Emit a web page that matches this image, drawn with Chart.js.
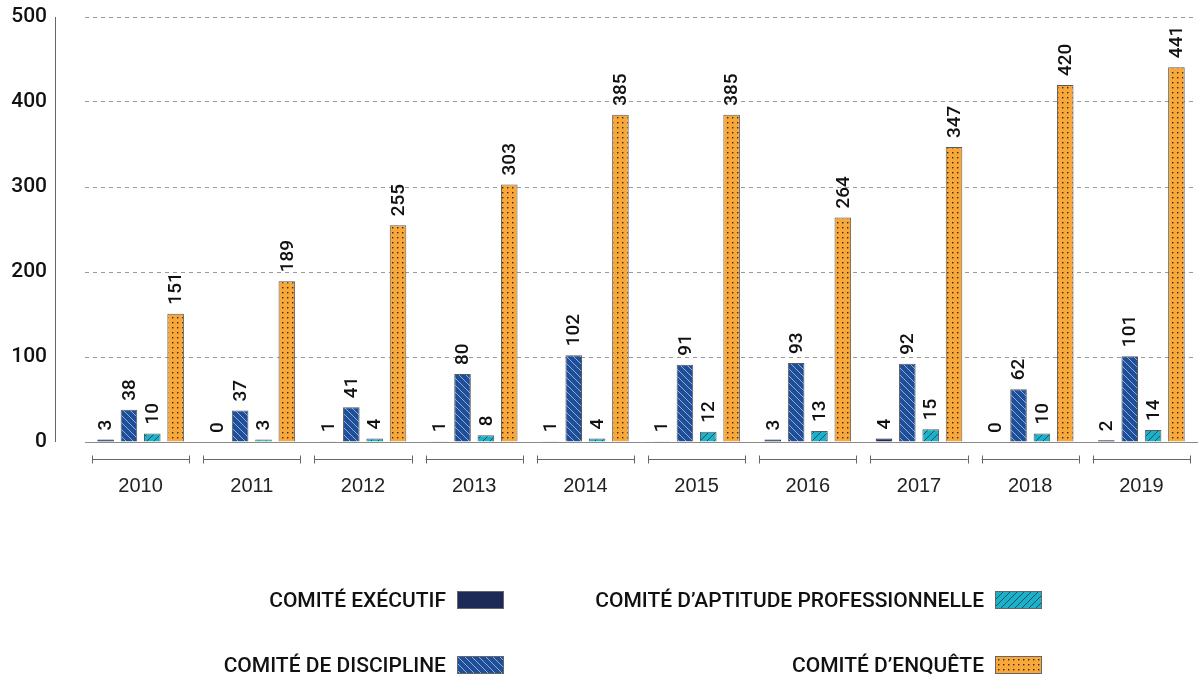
<!DOCTYPE html>
<html lang="fr">
<head>
<meta charset="utf-8">
<script src="https://cdn.jsdelivr.net/npm/chart.js@4"></script>
<style>
    body { margin: 0; background: #fff; }
    #wrap { position: relative; width: 1201px; height: 677px; }
    .legend-item {
        position: absolute;
        display: flex;
        align-items: center;
        font-family: "Roboto", "Liberation Sans", sans-serif;
        font-weight: 500;
        font-size: 21px;
        color: #111;
        white-space: nowrap;
    }
    .legend-item canvas { margin-left: 11px; border: 1px solid #666; }
</style>
</head>
<body>
<div id="wrap">
    <canvas id="committees" width="1201" height="677"></canvas>
    <div class="legend-item" id="leg-0" style="right:697px; top:588px;">COMITÉ EXÉCUTIF<canvas width="45" height="16"></canvas></div>
    <div class="legend-item" id="leg-2" style="right:159px; top:588px;">COMITÉ D’APTITUDE PROFESSIONNELLE<canvas width="45" height="16"></canvas></div>
    <div class="legend-item" id="leg-1" style="right:697px; top:653px;">COMITÉ DE DISCIPLINE<canvas width="45" height="16"></canvas></div>
    <div class="legend-item" id="leg-3" style="right:159px; top:653px;">COMITÉ D’ENQUÊTE<canvas width="45" height="16"></canvas></div>
</div>
<script>
// Data
const years = ['2010', '2011', '2012', '2013', '2014', '2015', '2016', '2017', '2018', '2019'];
const seriesNames = ['COMITÉ EXÉCUTIF', 'COMITÉ DE DISCIPLINE', 'COMITÉ D’APTITUDE PROFESSIONNELLE', 'COMITÉ D’ENQUÊTE'];
const executif = [3, 0, 1, 1, 1, 1, 3, 4, 0, 2];
const discipline = [38, 37, 41, 80, 102, 91, 93, 92, 62, 101];
const aptitude = [10, 3, 4, 8, 4, 12, 13, 15, 10, 14];
const enquete = [151, 189, 255, 303, 385, 385, 264, 347, 420, 441];
const yTicks = [0, 100, 200, 300, 400, 500];

// ::::: Fill patterns :::::
function makeTile(size, draw) {
    const c = document.createElement('canvas');
    c.width = size; c.height = size;
    draw(c.getContext('2d'), size);
    return c;
}
const tiles = [
    makeTile(6, (g, s) => { g.fillStyle = '#1d2a57'; g.fillRect(0, 0, s, s); }),
    makeTile(7, (g, s) => {
        g.fillStyle = '#1e4f98'; g.fillRect(0, 0, s, s);
        g.strokeStyle = '#9cb6dc'; g.lineWidth = 0.9;
        g.beginPath();
        g.moveTo(-1, -1); g.lineTo(s + 1, s + 1);
        g.moveTo(-1, s - 1); g.lineTo(1, s + 1);
        g.moveTo(s - 1, -1); g.lineTo(s + 1, 1);
        g.stroke();
    }),
    makeTile(7, (g, s) => {
        g.fillStyle = '#1cb1c9'; g.fillRect(0, 0, s, s);
        g.strokeStyle = '#0c4a5a'; g.lineWidth = 0.9;
        g.beginPath();
        g.moveTo(-1, s + 1); g.lineTo(s + 1, -1);
        g.moveTo(-1, 1); g.lineTo(1, -1);
        g.moveTo(s - 1, s + 1); g.lineTo(s + 1, s - 1);
        g.stroke();
    }),
    makeTile(5, (g, s) => {
        g.fillStyle = '#f8a73a'; g.fillRect(0, 0, s, s);
        g.fillStyle = '#3b2a12'; g.fillRect(2, 2, 1.4, 1.4);
    })
];
const borders = ['#1d2a57', '#5a5a5a', '#5a5a5a', '#5a5a5a'];
const mainCtx = document.getElementById('committees').getContext('2d');
const fills = tiles.map(t => mainCtx.createPattern(t, 'repeat'));

// legend swatches
tiles.forEach((t, i) => {
    const sw = document.querySelector('#leg-' + i + ' canvas');
    const g = sw.getContext('2d');
    g.fillStyle = g.createPattern(t, 'repeat');
    g.fillRect(0, 0, sw.width, sw.height);
});

// ::::: Plugins :::::
// Rotated value labels above every bar
const valueLabels = {
    id: 'valueLabels',
    afterDatasetsDraw(chart) {
        const ctx = chart.ctx;
        ctx.save();
        ctx.font = '500 19px "Roboto", "Liberation Sans", sans-serif';
        ctx.fillStyle = '#111';
        ctx.textAlign = 'left';
        ctx.textBaseline = 'middle';
        chart.data.datasets.forEach((ds, di) => {
            chart.getDatasetMeta(di).data.forEach((bar, i) => {
                ctx.save();
                ctx.translate(bar.x, bar.y - 9);
                ctx.rotate(-Math.PI / 2);
                ctx.fillText(String(ds.data[i]), 0, 1);
                ctx.restore();
            });
        });
        ctx.restore();
    }
};

// Left axis line and the brackets under each year
const axisDecor = {
    id: 'axisDecor',
    afterDraw(chart) {
        const ctx = chart.ctx;
        const area = chart.chartArea;
        const xScale = chart.scales.x;
        ctx.save();
        ctx.strokeStyle = '#666';
        ctx.lineWidth = 1;
        ctx.beginPath();
        ctx.moveTo(55.5, area.top);
        ctx.lineTo(55.5, area.bottom);
        ctx.stroke();

        const half = (xScale.width / years.length) / 2 - 7;
        const by = Math.round(area.bottom + 17) + 0.5;
        years.forEach((y, i) => {
            const cx = xScale.getPixelForValue(i);
            ctx.beginPath();
            ctx.moveTo(cx - half, by);
            ctx.lineTo(cx + half, by);
            ctx.moveTo(Math.round(cx - half) + 0.5, by - 4);
            ctx.lineTo(Math.round(cx - half) + 0.5, by + 4);
            ctx.moveTo(Math.round(cx + half) + 0.5, by - 4);
            ctx.lineTo(Math.round(cx + half) + 0.5, by + 4);
            ctx.stroke();
        });
        ctx.restore();
    }
};

new Chart(mainCtx, {
    type: 'bar',
    data: {
        labels: years,
        datasets: [executif, discipline, aptitude, enquete].map((values, i) => ({
            label: seriesNames[i],
            data: values,
            backgroundColor: fills[i],
            borderColor: borders[i],
            borderWidth: 1,
            barPercentage: 0.71,
            categoryPercentage: 0.84
        }))
    },
    options: {
        responsive: false,
        animation: false,
        layout: { padding: { top: 17, right: 4, bottom: 175, left: 0 } },
        scales: {
            x: {
                grid: { display: false, drawTicks: false },
                border: { display: true, color: '#8a8a8a', width: 1 },
                ticks: {
                    padding: 32,
                    color: '#222',
                    font: { family: '"Liberation Sans", sans-serif', size: 20 }
                },
                afterFit(scale) { scale.height = 60; }
            },
            y: {
                min: 0,
                max: 500,
                afterBuildTicks(scale) { scale.ticks = yTicks.map(v => ({ value: v })); },
                grid: {
                    drawTicks: false,
                    color: (c) => c.tick && c.tick.value === 0 ? 'rgba(0,0,0,0)' : '#9a9a9a',
                    lineWidth: 1
                },
                border: { display: false, dash: [4, 4] },
                ticks: {
                    padding: 38,
                    color: '#111',
                    font: { family: '"Roboto", "Liberation Sans", sans-serif', size: 21, weight: 500 }
                },
                afterFit(scale) {
                    // the big tick padding is only meant to be horizontal
                    scale.width = 85;
                    scale.paddingTop = 0;
                    scale.paddingBottom = 0;
                }
            }
        },
        plugins: {
            legend: { display: false },
            tooltip: { enabled: false }
        }
    },
    plugins: [valueLabels, axisDecor]
});
</script>
</body>
</html>
